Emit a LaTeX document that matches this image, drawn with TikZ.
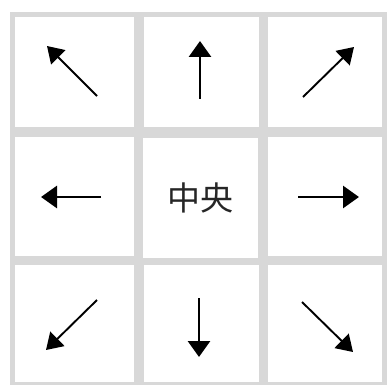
\documentclass[tikz,border=0pt]{standalone}
\usepackage{fontspec}
\newfontfamily\cjkfont{Noto Sans CJK SC}
\usetikzlibrary{arrows.meta}
\definecolor{framegray}{HTML}{D8D8D8}
\tikzset{
  cell/.style={fill=white, draw=none, inner sep=0pt, anchor=center},
  straightarr/.style={line width=2.8pt, -{Triangle[width=22pt,length=16pt]}},
  diagarr/.style={line width=1.9pt, -{Triangle[width=20pt,length=16pt]}},
  centertext/.style={font=\cjkfont\fontsize{33}{33}\selectfont, text=black!85}
}
\begin{document}
\begin{tikzpicture}[x=1pt,y=-1pt]
\useasboundingbox (0,0) rectangle (388,385);
\fill[white] (0,0) rectangle (388,385);
\node[fill=framegray, inner sep=0pt, minimum width=377pt, minimum height=372pt] (frame) at (198.5,198.5) {};
% cells
\node[cell, minimum width=119pt, minimum height=110pt] (c11) at (74.5,72) {};
\node[cell, minimum width=115pt, minimum height=110pt] (c12) at (201.5,72) {};
\node[cell, minimum width=114pt, minimum height=110pt] (c13) at (325,72) {};
\node[cell, minimum width=119pt, minimum height=119pt] (c21) at (74.5,196.5) {};
\node[cell, minimum width=115pt, minimum height=119pt, centertext] (c22) at (200.5,198) {中央};
\node[cell, minimum width=114pt, minimum height=119pt] (c23) at (325,196.5) {};
\node[cell, minimum width=119pt, minimum height=117pt] (c31) at (74.5,323.5) {};
\node[cell, minimum width=115pt, minimum height=117pt] (c32) at (201.5,323.5) {};
\node[cell, minimum width=114pt, minimum height=117pt] (c33) at (325,323.5) {};
% arrow end points
\coordinate (nwA) at (97,96);   \coordinate (nwB) at (47,46);
\coordinate (nA) at (200,99);   \coordinate (nB) at (200,41);
\coordinate (neA) at (303,97);  \coordinate (neB) at (354,47);
\coordinate (wA) at (101,197);  \coordinate (wB) at (41,197);
\coordinate (eA) at (298,197);  \coordinate (eB) at (359,197);
\coordinate (swA) at (97,300);  \coordinate (swB) at (46,350);
\coordinate (sA) at (199,298);  \coordinate (sB) at (199,357);
\coordinate (seA) at (302,302); \coordinate (seB) at (353,352);
\draw[diagarr] (nwA) -- (nwB);
\draw[straightarr] (nA) -- (nB);
\draw[diagarr] (neA) -- (neB);
\draw[straightarr] (wA) -- (wB);
\draw[straightarr] (eA) -- (eB);
\draw[diagarr] (swA) -- (swB);
\draw[straightarr] (sA) -- (sB);
\draw[diagarr] (seA) -- (seB);
\end{tikzpicture}
\end{document}
